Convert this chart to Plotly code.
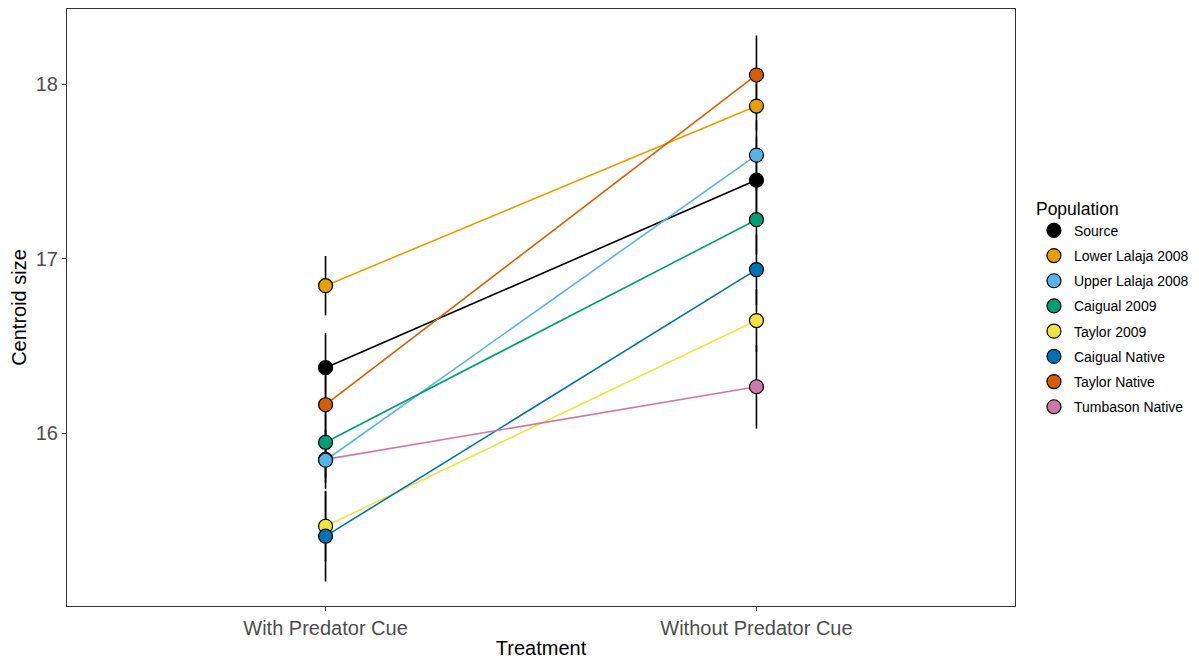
import plotly.graph_objects as go

treatments = ["With Predator Cue", "Without Predator Cue"]
populations = ["Source", "Lower Lalaja 2008", "Upper Lalaja 2008", "Caigual 2009",
               "Taylor 2009", "Caigual Native", "Taylor Native", "Tumbason Native"]
colors = ["#000000", "#E69F00", "#56B4E9", "#009E73", "#F0E442", "#0072B2", "#D55E00", "#CC79A7"]

with_cue = [16.375, 16.845, 15.845, 15.948, 15.467, 15.410, 16.163, 15.850]
without_cue = [17.450, 17.874, 17.593, 17.223, 16.645, 16.937, 18.052, 16.266]
with_se = [0.20, 0.17, 0.13, 0.20, 0.20, 0.26, 0.25, 0.17]
without_se = [0.25, 0.14, 0.20, 0.20, 0.18, 0.20, 0.226, 0.24]

font_family = "Liberation Sans, Arial, sans-serif"
fig = go.Figure()

# connecting lines
for p, c, a, b in zip(populations, colors, with_cue, without_cue):
    fig.add_trace(go.Scatter(x=treatments, y=[a, b], mode="lines",
                             line=dict(color=c, width=1.6), showlegend=False,
                             hoverinfo="skip"))

# error bars
ex, ey = [], []
for vals, ses, t in [(with_cue, with_se, treatments[0]), (without_cue, without_se, treatments[1])]:
    for v, s in zip(vals, ses):
        ex += [t, t, None]
        ey += [v - s, v + s, None]
fig.add_trace(go.Scatter(x=ex, y=ey, mode="lines", line=dict(color="black", width=1.6),
                         showlegend=False, hoverinfo="skip", connectgaps=False))

# points (Tumbason drawn first so Upper Lalaja sits on top, legend order kept by rank)
order = [7, 0, 1, 2, 3, 4, 5, 6]
for i in order:
    fig.add_trace(go.Scatter(x=treatments, y=[with_cue[i], without_cue[i]], mode="markers",
                             name=populations[i], legendrank=i + 1, legendgroup=populations[i],
                             marker=dict(color=colors[i], size=14,
                                         line=dict(color="black", width=1.2))))

fig.update_layout(
    width=1191, height=651,
    margin=dict(l=59, r=184, t=1, b=53),
    plot_bgcolor="white", paper_bgcolor="white",
    font=dict(family=font_family, color="black"),
    legend=dict(title=dict(text="Population", font=dict(size=17.5)),
                font=dict(size=14), x=1.02, xanchor="left", y=0.5, yanchor="middle",
                tracegroupgap=4),
)
fig.update_xaxes(type="category", range=[-0.6, 1.6], showline=True, mirror=True,
                 linecolor="#333333", linewidth=1, ticks="outside", ticklen=4,
                 tickcolor="#333333", showgrid=False, zeroline=False,
                 tickfont=dict(size=20, color="#4d4d4d"),
                 title=dict(text="Treatment", font=dict(size=20, color="black"), standoff=2))
fig.update_yaxes(range=[15.01, 18.43], tickvals=[16, 17, 18], showline=True, mirror=True,
                 linecolor="#333333", linewidth=1, ticks="outside", ticklen=4,
                 tickcolor="#333333", showgrid=False, zeroline=False,
                 tickfont=dict(size=20, color="#4d4d4d"),
                 title=dict(text="Centroid size", font=dict(size=20, color="black"), standoff=6))

fig.write_html("out.html")
